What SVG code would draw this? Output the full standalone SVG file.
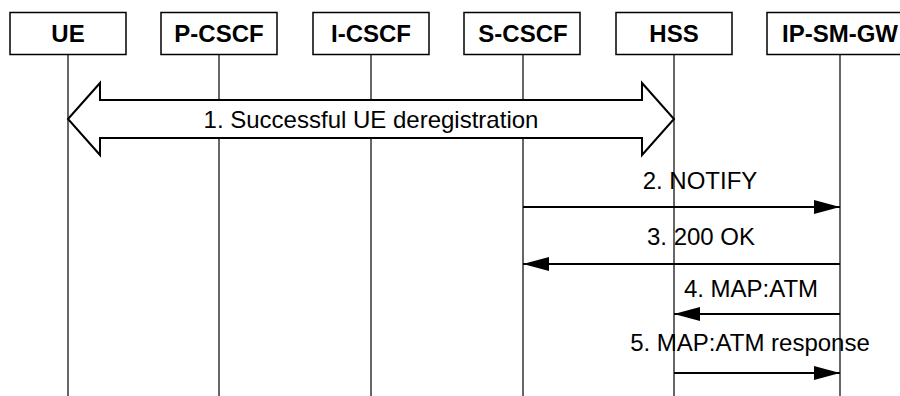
<svg xmlns="http://www.w3.org/2000/svg" width="900" height="396" viewBox="0 0 900 396">
<defs>
<style>
.box{fill:#fff;stroke:#000;stroke-width:1.5}
.name{font-family:"Liberation Sans",Arial,sans-serif;font-weight:bold;font-size:24px;text-anchor:middle;fill:#000}
.life{stroke:#000;stroke-width:1.2}
.msg{stroke:#000;stroke-width:2;fill:none}
.lbl{font-family:"Liberation Sans",Arial,sans-serif;font-size:24px;text-anchor:middle;fill:#000}
.big{fill:#fff;stroke:#000;stroke-width:2;stroke-linejoin:miter}
</style>
<marker id="ah" markerWidth="26" markerHeight="14" refX="26" refY="7" orient="auto" markerUnits="userSpaceOnUse">
<path d="M0,0 L26,7 L0,14 Z" fill="#000"/>
</marker>
</defs>
<rect width="900" height="396" fill="#fff"/>
<g id="lifelines">
<line class="life" x1="68" y1="54" x2="68" y2="396"/>
<line class="life" x1="219" y1="54" x2="219" y2="396"/>
<line class="life" x1="371" y1="54" x2="371" y2="396"/>
<line class="life" x1="523" y1="54" x2="523" y2="396"/>
<line class="life" x1="674" y1="54" x2="674" y2="396"/>
<line class="life" x1="840" y1="54" x2="840" y2="396"/>
</g>
<g id="UE"><rect class="box" x="10" y="12.5" width="116" height="42"/><text class="name" x="68" y="41.5">UE</text></g>
<g id="P-CSCF"><rect class="box" x="161" y="12.5" width="116" height="42"/><text class="name" x="219" y="41.5">P-CSCF</text></g>
<g id="I-CSCF"><rect class="box" x="313" y="12.5" width="116" height="42"/><text class="name" x="371" y="41.5">I-CSCF</text></g>
<g id="S-CSCF"><rect class="box" x="464" y="12.5" width="116" height="42"/><text class="name" x="523" y="41.5">S-CSCF</text></g>
<g id="HSS"><rect class="box" x="616" y="12.5" width="116" height="42"/><text class="name" x="674" y="41.5">HSS</text></g>
<g id="IP-SM-GW"><rect class="box" x="767" y="12.5" width="146" height="42"/><text class="name" x="840" y="41.5">IP-SM-GW</text></g>
<g id="connectors">
<polygon class="big" points="68,119 100,83 100,100 642,100 642,83 674,119 642,155 642,138 100,138 100,155"/>
<text class="lbl" x="371" y="128">1. Successful UE deregistration</text>
<line class="msg" x1="523" y1="207" x2="840" y2="207" marker-end="url(#ah)"/>
<text class="lbl" x="700" y="189">2. NOTIFY</text>
<line class="msg" x1="840" y1="264" x2="523" y2="264" marker-end="url(#ah)"/>
<text class="lbl" x="701" y="245">3. 200 OK</text>
<line class="msg" x1="840" y1="314" x2="674" y2="314" marker-end="url(#ah)"/>
<text class="lbl" x="751" y="297">4. MAP:ATM</text>
<line class="msg" x1="674" y1="373" x2="840" y2="373" marker-end="url(#ah)"/>
<text class="lbl" x="750" y="351">5. MAP:ATM response</text>
</g>
</svg>
